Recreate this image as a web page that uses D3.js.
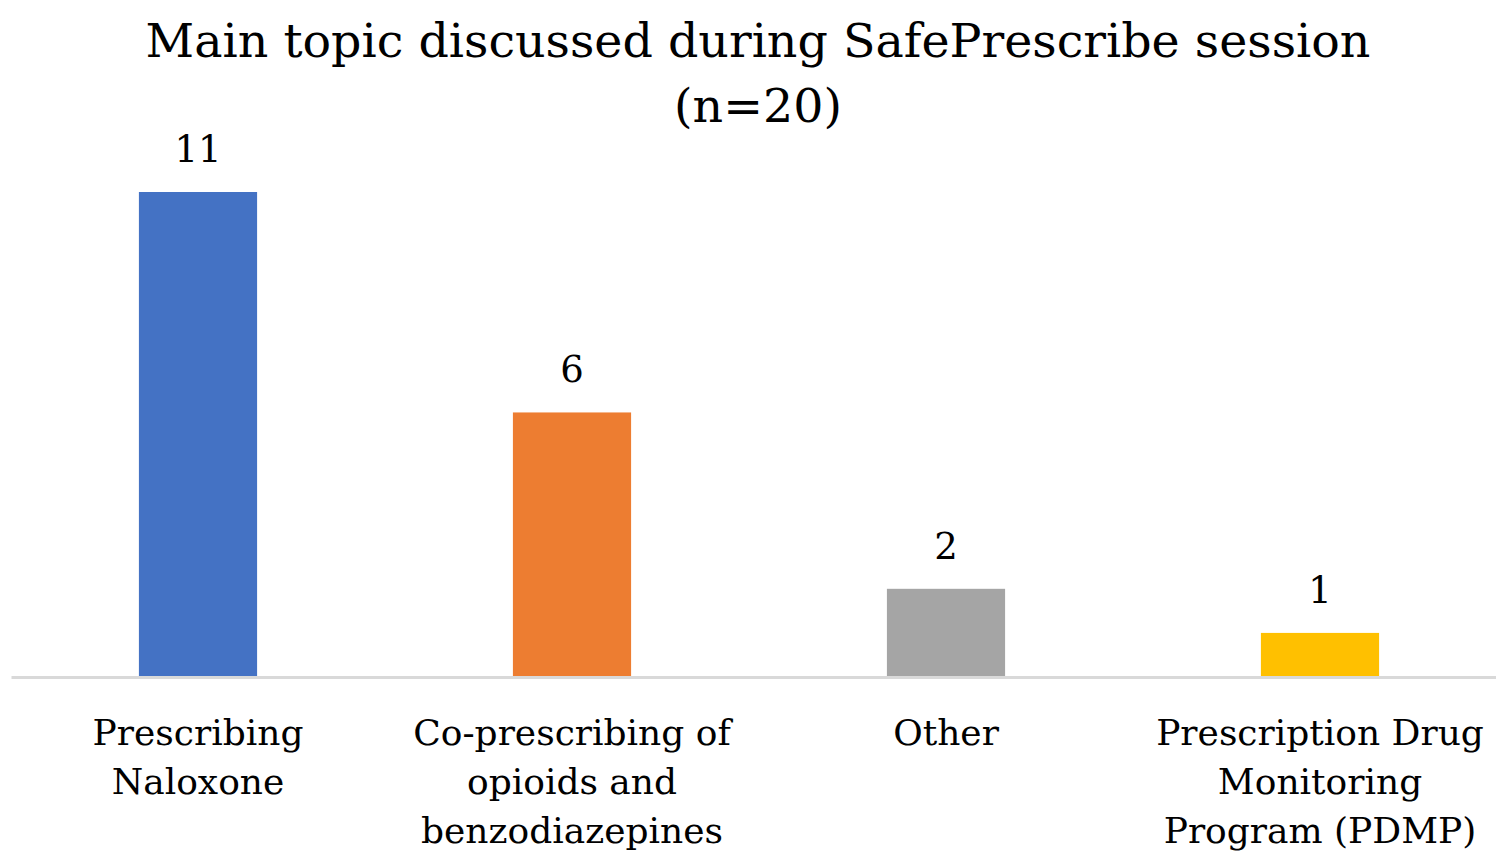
<!DOCTYPE html>
<html>
<head>
<meta charset="utf-8">
<script src="https://cdn.jsdelivr.net/npm/d3@7"></script>
<style>
  body { margin: 0; background: #fff; }
  text { font-family: "DejaVu Serif", "Liberation Serif", serif; fill: #000; }
</style>
</head>
<body>
<script>
// chart data
var categories = ["Prescribing Naloxone", "Co-prescribing of opioids and benzodiazepines", "Other", "Prescription Drug Monitoring Program (PDMP)"];
var labelLines = [["Prescribing", "Naloxone"], ["Co-prescribing of", "opioids and", "benzodiazepines"], ["Other"], ["Prescription Drug", "Monitoring", "Program (PDMP)"]];
var counts = [11, 6, 2, 1];
var colors = ["#4472C4", "#ED7D31", "#A5A5A5", "#FFC000"];
var titleLines = ["Main topic discussed during SafePrescribe session", "(n=20)"];

//Width and height
var w = 1496;
var h = 853;
var base = 677; // baseline of the bars

var svg = d3.select("body")
    .append("svg")
    .attr("width", w)
    .attr("height", h);

//Scales
var xScale = d3.scaleBand()
    .domain(categories)
    .range([11, 1507])
    .paddingInner(0.684)
    .paddingOuter(0.342);

var yScale = d3.scaleLinear()
    .domain([0, 11])
    .range([base, 192]);

//Title
svg.append("text")
    .attr("x", 758)
    .attr("y", 57)
    .attr("text-anchor", "middle")
    .style("font-size", "47.5px")
    .selectAll("tspan")
    .data(titleLines)
    .enter()
    .append("tspan")
    .attr("x", 758)
    .attr("y", function (d, i) { return 57 + i * 65; })
    .text(function (d) { return d; });

//Bars
svg.selectAll("rect")
    .data(counts)
    .enter()
    .append("rect")
    .attr("x", function (d, i) { return xScale(categories[i]); })
    .attr("y", function (d) { return yScale(d); })
    .attr("width", xScale.bandwidth())
    .attr("height", function (d) { return base - yScale(d); })
    .attr("fill", function (d, i) { return colors[i]; });

//Value labels
svg.selectAll(".val")
    .data(counts)
    .enter()
    .append("text")
    .attr("class", "val")
    .attr("x", function (d, i) { return xScale(categories[i]) + xScale.bandwidth() / 2; })
    .attr("y", function (d) { return yScale(d) - 30; })
    .attr("text-anchor", "middle")
    .style("font-size", "37px")
    .text(function (d) { return d; });

//X axis
var xAxis = d3.axisBottom(xScale).tickSize(0).tickFormat("");
var gx = svg.append("g")
    .attr("transform", "translate(0," + base + ")")
    .call(xAxis);
gx.select(".domain")
    .attr("stroke", "#D9D9D9")
    .attr("stroke-width", 3);

gx.selectAll(".tick text").remove();
gx.selectAll(".tick")
    .append("text")
    .attr("text-anchor", "middle")
    .style("font-size", "36px")
    .selectAll("tspan")
    .data(function (d) { return labelLines[categories.indexOf(d)]; })
    .enter()
    .append("tspan")
    .attr("x", 0)
    .attr("y", function (d, i) { return 68 + i * 49; })
    .text(function (d) { return d; });
</script>
</body>
</html>
